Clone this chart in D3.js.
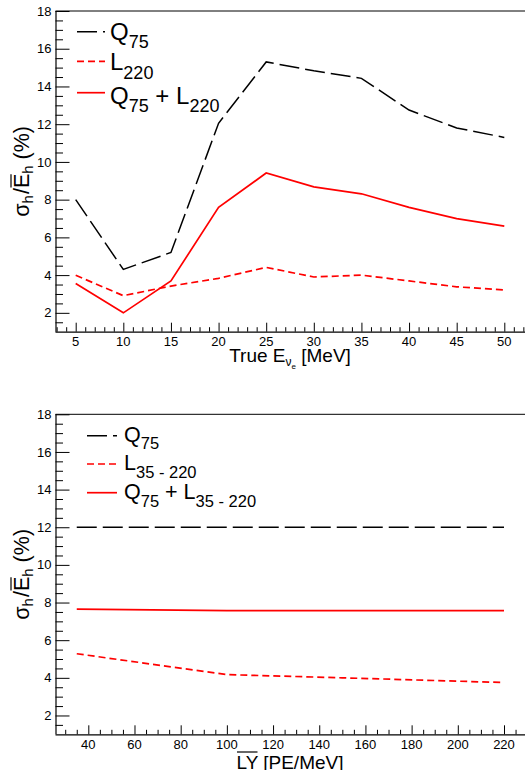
<!DOCTYPE html>
<html><head><meta charset="utf-8">
<script src="https://cdn.jsdelivr.net/npm/d3@7"></script>
<style>
html,body{margin:0;padding:0;background:#fff;}
svg{display:block;font-family:"Liberation Sans",Arial,Helvetica,sans-serif;}
</style></head><body>
<svg id="c" width="525" height="770"></svg>
<script>
// ---------- data ----------
const energyX = [5, 10, 15, 20, 25, 30, 35, 40, 45, 50];
const q75ByEnergy = [8.0, 4.3, 5.2, 12.05, 15.3, 14.83, 14.43, 12.75, 11.8, 11.3];
const l220ByEnergy = [3.99, 2.91, 3.42, 3.83, 4.41, 3.9, 4.0, 3.69, 3.38, 3.21];
const sumByEnergy = [3.56, 2.0, 3.69, 7.59, 9.41, 8.68, 8.31, 7.59, 6.99, 6.6];

const lyX = [35, 100, 150, 220];
const q75ByLY = [12.0, 12.0, 12.0, 12.0];
const lByLY = [5.28, 4.17, 4.0, 3.75];
const sumByLY = [7.65, 7.57, 7.57, 7.57];

const yTicks = [2, 4, 6, 8, 10, 12, 14, 16, 18];
const energyTicks = [5, 10, 15, 20, 25, 30, 35, 40, 45, 50];
const lyTicks = [40, 60, 80, 100, 120, 140, 160, 180, 200, 220];

// ---------- drawing ----------
const svg = d3.select("#c");
const RED = "#ff0000";

function panel(cfg) {
  const g = svg.append("g");
  const left = 55.5, right = 526;
  const x0 = d3.scaleLinear().domain(cfg.xAnchor).range(cfg.xAnchorPx);
  const x = d3.scaleLinear().domain([x0.invert(left), x0.invert(right)]).range([left, right]);
  const y = d3.scaleLinear().domain([1, 18]).range([cfg.bottom, cfg.top]);

  g.append("line").attr("x1", left).attr("x2", right).attr("y1", cfg.top).attr("y2", cfg.top)
    .attr("stroke", "#000").attr("stroke-width", 1);

  // Y axis
  const yMinor = d3.range(1.5, 18, 0.5).filter(v => !yTicks.includes(v));
  const yAx = g.append("g").attr("transform", `translate(${left},0)`);
  yAx.call(d3.axisRight(y).tickValues(yTicks).tickSize(14).tickFormat(""));
  yAx.select(".domain").attr("d", `M0.5,${cfg.top}V${cfg.bottom}`);
  const yAxMinor = g.append("g").attr("transform", `translate(${left},0)`);
  yAxMinor.call(d3.axisRight(y).tickValues(yMinor).tickSize(7.5).tickFormat(""));
  yAxMinor.select(".domain").remove();
  g.selectAll(".ylab").data(yTicks).enter().append("text")
    .attr("x", left - 4).attr("y", d => y(d) + 4.6)
    .attr("text-anchor", "end").attr("font-size", 13).text(d => d);

  // X axis
  const [dx0, dx1] = x.domain();
  const xMinor = d3.range(Math.ceil(dx0 / cfg.minorStep) * cfg.minorStep, dx1, cfg.minorStep)
    .filter(v => !cfg.xTicks.includes(v));
  const xAx = g.append("g").attr("transform", `translate(0,${cfg.bottom})`);
  xAx.call(d3.axisTop(x).tickValues(cfg.xTicks).tickSize(9).tickFormat(""));
  xAx.select(".domain").attr("d", `M${left},0.5H${right}`);
  const xAxMinor = g.append("g").attr("transform", `translate(0,${cfg.bottom})`);
  xAxMinor.call(d3.axisTop(x).tickValues(xMinor).tickSize(4.5).tickFormat(""));
  xAxMinor.select(".domain").remove();
  g.selectAll(".xlab").data(cfg.xTicks).enter().append("text")
    .attr("x", d => x(d)).attr("y", cfg.bottom + 14.3)
    .attr("text-anchor", "middle").attr("font-size", 13).text(d => d);
  g.selectAll(".tick line").attr("stroke", "#000").attr("stroke-width", 1);
  g.selectAll(".domain").attr("stroke", "#000").attr("stroke-width", 1.2);

  // series
  const line = d3.line().x(d => x(d[0])).y(d => y(d[1]));
  cfg.series.forEach(s => {
    g.append("path").datum(cfg.xs.map((v, i) => [v, s.values[i]]))
      .attr("d", line).attr("fill", "none").attr("stroke", s.color)
      .attr("stroke-width", s.width).attr("stroke-dasharray", s.dash || null)
      .attr("stroke-linejoin", "miter");
  });

  // Y title (start-anchored, centred by measurement)
  const yc = (cfg.top + cfg.bottom) / 2;
  const tg = g.append("g").attr("transform", `translate(29,${yc}) rotate(-90)`);
  const yt = tg.append("text").attr("x", 0).attr("y", 0).attr("font-size", 21.5);
  const s1 = yt.append("tspan").text("σ");
  yt.append("tspan").attr("font-size", 15).attr("dy", 4).text("h");
  yt.append("tspan").attr("dy", -4).attr("dx", 1).text("/");
  const eSpan = yt.append("tspan").text("E");
  yt.append("tspan").attr("font-size", 15).attr("dy", 4).text("h");
  yt.append("tspan").attr("dy", -4).text(" (%)");
  const node = yt.node();
  const w = node.getComputedTextLength() + 1;
  yt.attr("x", -w / 2);
  const ePre = node.getSubStringLength(0, 3) + 1;
  const eW = node.getSubStringLength(3, 1);
  tg.append("line").attr("x1", -w / 2 + ePre + 0.5).attr("x2", -w / 2 + ePre + eW - 0.5)
    .attr("y1", -18).attr("y2", -18).attr("stroke", "#000").attr("stroke-width", 1.2);

  // legend
  const L = cfg.legend;
  L.rows.forEach((r, i) => {
    const s = cfg.series[i];
    g.append("line").attr("x1", L.x1).attr("x2", L.x2).attr("y1", r.ly).attr("y2", r.ly)
      .attr("stroke", s.color).attr("stroke-width", s.width).attr("stroke-dasharray", s.dash || null);
    const t = g.append("text").attr("x", L.tx).attr("y", r.by).attr("font-size", L.fs);
    r.parts.forEach(p => {
      if (p.sub) t.append("tspan").attr("font-size", L.sfs).attr("dy", L.shift).text(p.sub);
      else t.append("tspan").attr("dy", p.after ? -L.shift : 0).text(p.t);
    });
  });
  return {g, x, y};
}

const dashQ = "20,6", dashL = "7,4";

const p1 = panel({
  top: 11, bottom: 331.7, xAnchor: [5, 50], xAnchorPx: [75.7, 504.3],
  xTicks: energyTicks, minorStep: 1, xs: energyX,
  series: [
    {values: q75ByEnergy, color: "#000", width: 1.5, dash: dashQ},
    {values: l220ByEnergy, color: RED, width: 1.7, dash: dashL},
    {values: sumByEnergy, color: RED, width: 1.7}
  ],
  legend: {x1: 77, x2: 105, tx: 110, fs: 24, sfs: 18, shift: 8.5, rows: [
    {ly: 31.7, by: 39.5, parts: [{t: "Q"}, {sub: "75"}]},
    {ly: 61.3, by: 70, parts: [{t: "L"}, {sub: "220"}]},
    {ly: 92.7, by: 103.5, parts: [{t: "Q"}, {sub: "75"}, {t: " + L", after: true}, {sub: "220"}]}
  ]}
});
{
  const t = p1.g.append("text").attr("x", 290).attr("y", 362).attr("text-anchor", "middle").attr("font-size", 19);
  t.append("tspan").text("True E");
  t.append("tspan").attr("font-size", 12).attr("dy", 4).text("ν");
  t.append("tspan").attr("font-size", 8).attr("dy", 3).text("e");
  t.append("tspan").attr("dy", -7).text(" [MeV]");
}

const p2 = panel({
  top: 414.3, bottom: 734.3, xAnchor: [40, 220], xAnchorPx: [88.3, 504],
  xTicks: lyTicks, minorStep: 5, xs: lyX,
  series: [
    {values: q75ByLY, color: "#000", width: 1.5, dash: dashQ},
    {values: lByLY, color: RED, width: 1.7, dash: dashL},
    {values: sumByLY, color: RED, width: 1.7}
  ],
  legend: {x1: 87, x2: 117, tx: 124, fs: 21.5, sfs: 16.5, shift: 7.5, rows: [
    {ly: 435.7, by: 441.5, parts: [{t: "Q"}, {sub: "75"}]},
    {ly: 464, by: 470, parts: [{t: "L"}, {sub: "35 - 220"}]},
    {ly: 492.7, by: 499, parts: [{t: "Q"}, {sub: "75"}, {t: " + L", after: true}, {sub: "35 - 220"}]}
  ]}
});
{
  const t = p2.g.append("text").attr("y", 768.5).attr("font-size", 19).text("LY [PE/MeV]");
  const node = t.node();
  const w = node.getComputedTextLength();
  const x0 = 290 - w / 2;
  t.attr("x", x0);
  const lyW = node.getSubStringLength(0, 2);
  p2.g.append("line").attr("x1", x0 + 0.5).attr("x2", x0 + lyW - 0.5)
    .attr("y1", 752).attr("y2", 752).attr("stroke", "#000").attr("stroke-width", 1.2);
}
</script>
</body></html>
